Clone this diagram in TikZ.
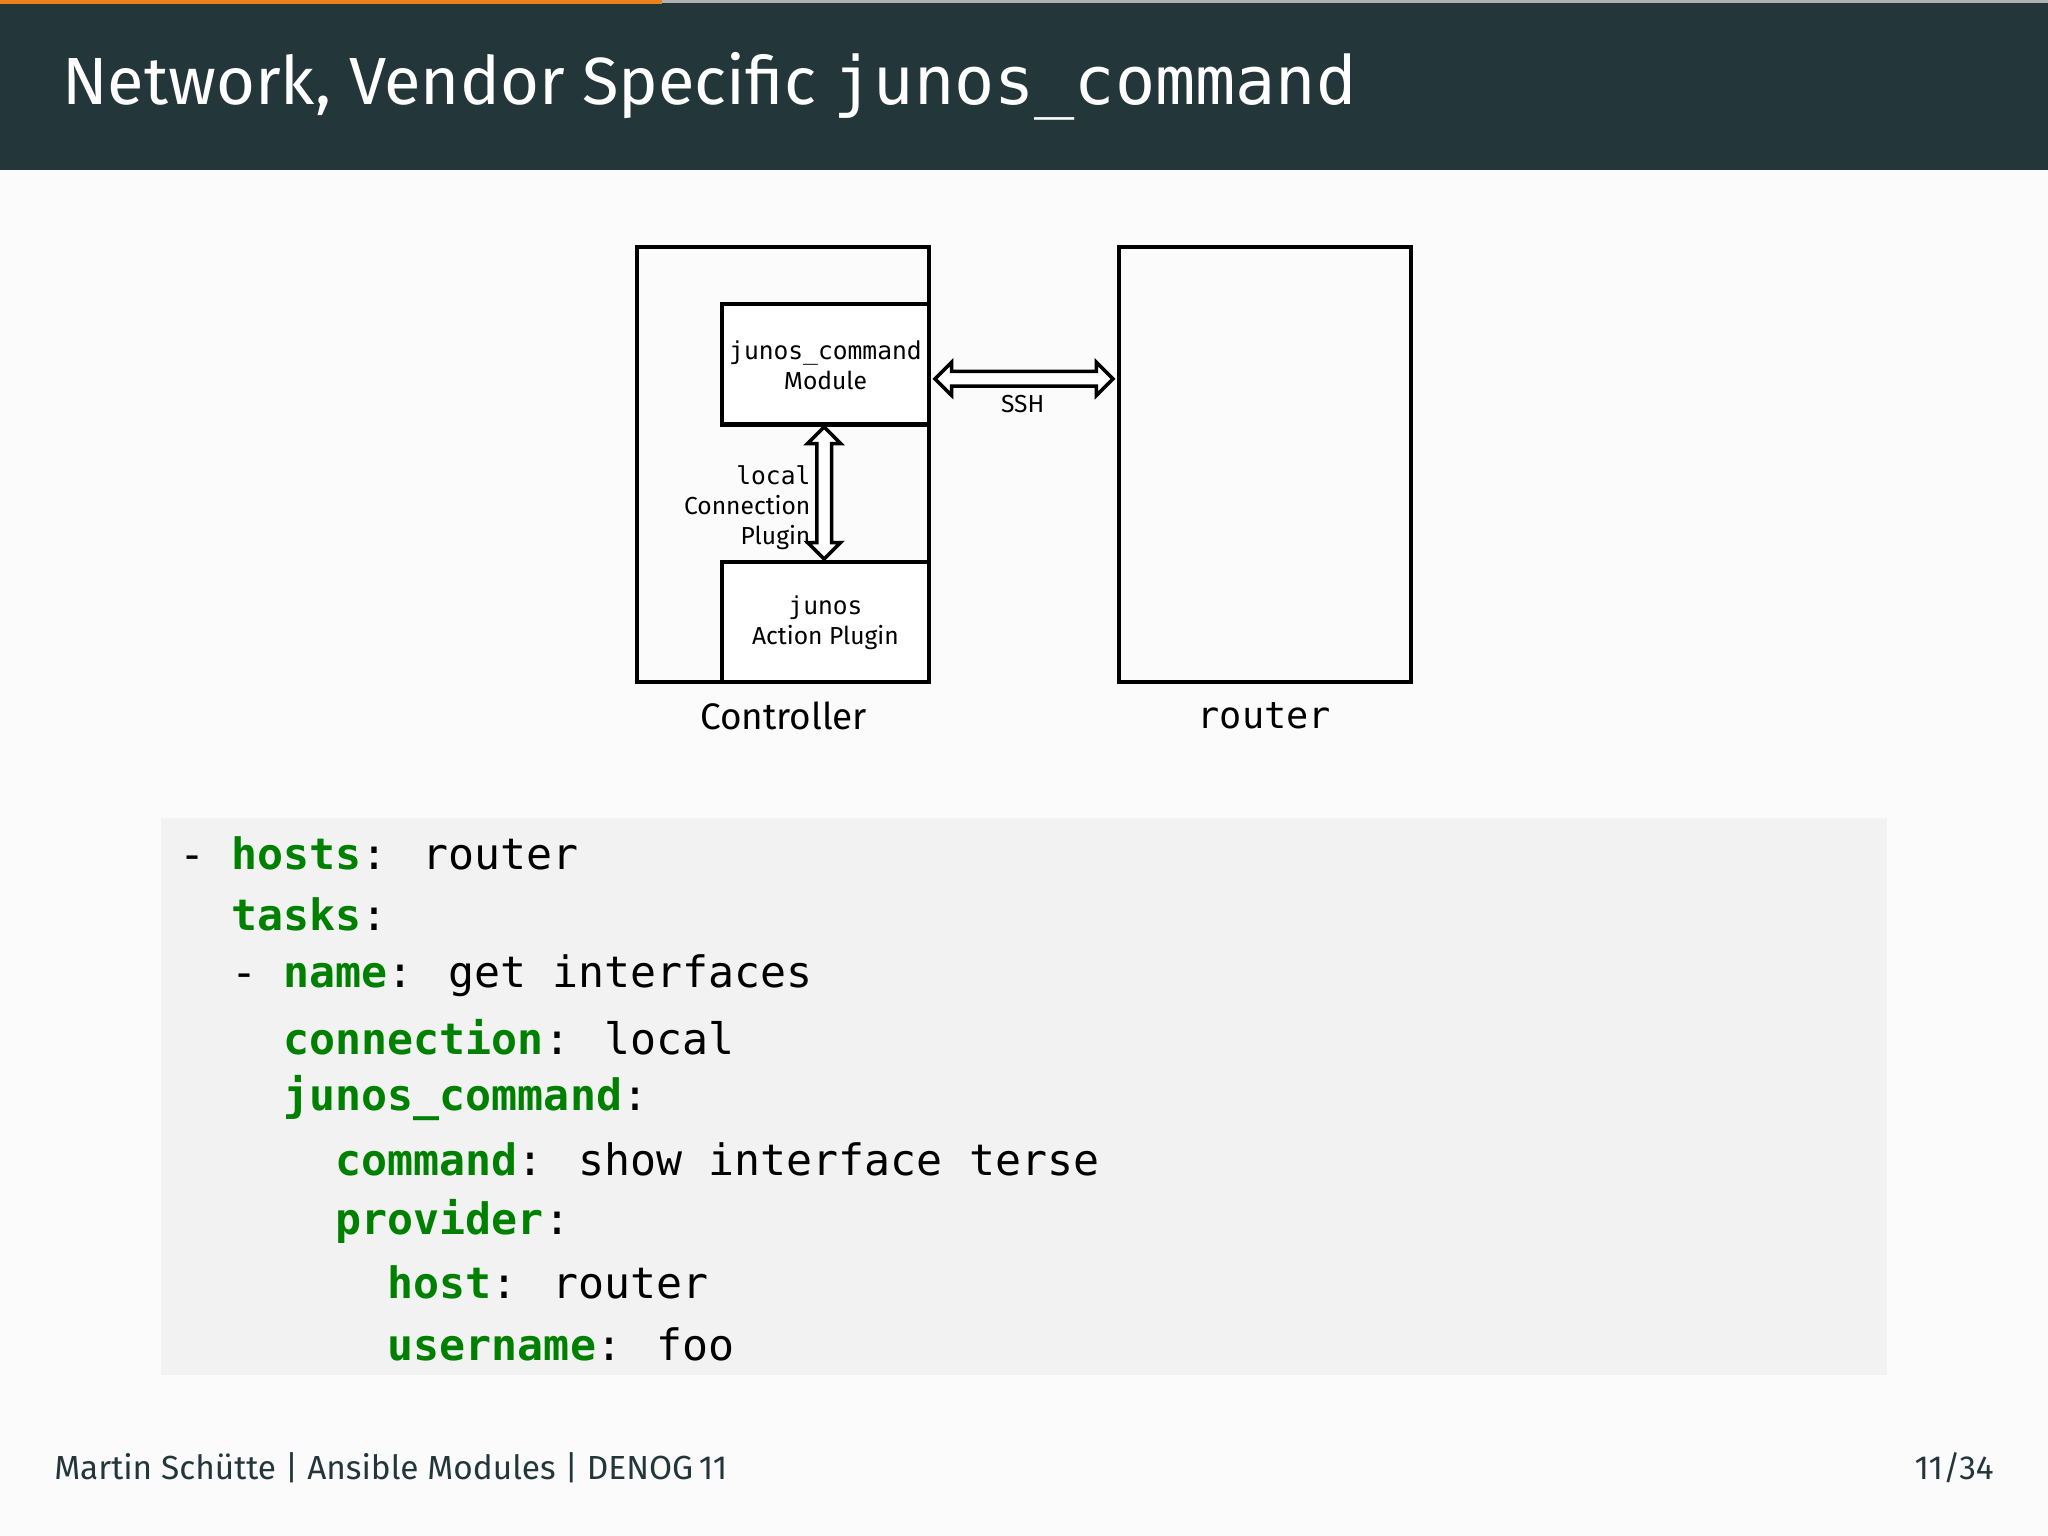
\documentclass[tikz,border=0pt]{standalone}
\usepackage{fontspec}
\setmainfont{Fira Sans}
\newfontfamily\codefont{DejaVu Sans Mono}
\usetikzlibrary{arrows.meta,positioning,shapes.arrows}
\definecolor{barbg}{HTML}{23373B}
\definecolor{barorange}{HTML}{EB811B}
\definecolor{codebg}{HTML}{F2F2F2}
\definecolor{keygreen}{HTML}{008000}
\newcommand{\ky}[1]{\textcolor{keygreen}{\bfseries #1}}
\begin{document}
\begin{tikzpicture}[x=0.013061cm,y=-0.013061cm,
    box/.style={draw,line width=1.2pt},
    small/.style={font=\fontsize{7}{8.5}\selectfont,align=center,inner sep=0pt},
    dbl/.style={double arrow,draw,fill=white,line width=1pt,inner xsep=0pt,inner ysep=1.6pt,
      text height=0pt,text depth=0pt,text width=0pt,
      double arrow head extend=2.6pt,double arrow head indent=0pt,
      minimum height=#1},
    code/.style={anchor=west,inner sep=0pt,font=\codefont\fontsize{12.3}{14}\selectfont}]
  \useasboundingbox (0,0) rectangle (1568,1176);
  \fill[white!97!gray] (0,0) rectangle (1568,1176);
  \fill[barbg] (0,0) rectangle (1568,130);
  \fill[barorange] (0,0) rectangle (507,3);
  \fill[gray!60] (507,0) rectangle (1568,2);
  \node[anchor=west,inner sep=0pt,text=white,font=\fontsize{19}{21}\selectfont\mdseries] (title) at (47,66)
    {Network, Vendor Specific {\codefont junos\_command}};
  % diagram
  \draw[box] (488,189) rectangle (711,522);
  \draw[box,fill=white] (553,233) rectangle (711,325);
  \draw[box,fill=white] (553,430) rectangle (711,522);
  \draw[box] (857,189) rectangle (1080,522);
  \node[small] (mod) at (632,280) {{\codefont junos\_command}\\Module};
  \node[small] (act) at (632,477) {{\codefont junos}\\Action Plugin};
  \node[small,align=right,anchor=east] (loc) at (621,389) {{\codefont local}\\Connection\\Plugin};
  \node[dbl=1.32cm,rotate=90] (vert) at (631,377.5) {};
  \node[dbl=1.78cm] (horiz) at (784,290) {};
  \node[small] (ssh) at (783,309) {SSH};
  \node[font=\fontsize{10.5}{12}\selectfont] (ctl) at (600,548) {Controller};
  \node[font=\codefont\fontsize{10.5}{12}\selectfont] (rtr) at (968,548) {router};
  % code
  \fill[codebg] (123,626) rectangle (1445,1053);
  \node[code] (l1) at (137,653) {- \ky{hosts}: router};
  \node[code] (l2) at (137,700) {\phantom{- }\ky{tasks}:};
  \node[code] (l3) at (137,747) {\phantom{- }- \ky{name}: get interfaces};
  \node[code] (l4) at (137,794) {\phantom{- - }\ky{connection}: local};
  \node[code] (l5) at (137,841) {\phantom{- - }\ky{junos\_command}:};
  \node[code] (l6) at (137,888) {\phantom{- - - }\ky{command}: show interface terse};
  \node[code] (l7) at (137,935) {\phantom{- - - }\ky{provider}:};
  \node[code] (l8) at (137,982) {\phantom{- - - - }\ky{host}: router};
  \node[code] (l9) at (137,1029) {\phantom{- - - - }\ky{username}: foo};
  % footer
  \node[anchor=west,inner sep=0pt,text=barbg,font=\fontsize{9.5}{11}\selectfont] (foot) at (41,1124)
    {Martin Schütte | Ansible Modules | DENOG\,11};
  \node[anchor=east,inner sep=0pt,text=barbg,font=\fontsize{9.5}{11}\selectfont] (page) at (1527,1124) {11/34};
\end{tikzpicture}
\end{document}
